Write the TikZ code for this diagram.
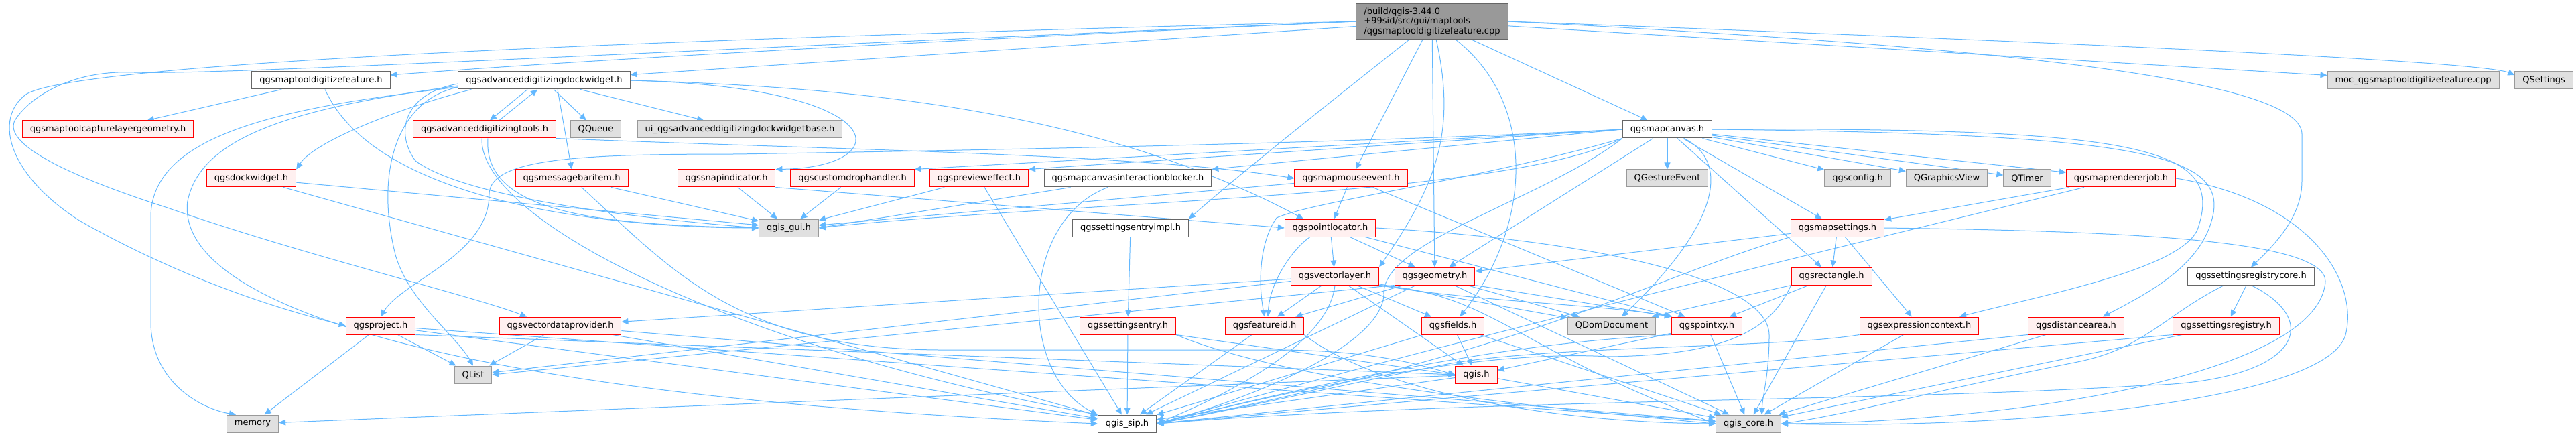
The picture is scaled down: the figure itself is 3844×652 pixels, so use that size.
\documentclass[tikz,border=0pt]{standalone}
\usepackage{fontspec}
\setmainfont{DejaVu Sans}
\usetikzlibrary{arrows.meta}
\definecolor{depblue}{RGB}{99,184,255}
\definecolor{redfill}{RGB}{255,240,240}
\definecolor{extfill}{RGB}{224,224,224}
\pgfdeclarelayer{bg}
\pgfsetlayers{bg,main}
\begin{document}
\begin{tikzpicture}[x=1pt,y=-1pt,>={Stealth[length=10pt,width=9pt,inset=0pt]},
    box/.style={draw=black!60,fill=white,line width=1pt,minimum height=26pt,
        inner xsep=11.5pt,inner ysep=0pt,font=\fontsize{13}{15}\selectfont},
    redbox/.style={box,draw=red,fill=redfill},
    extbox/.style={box,draw=black!40,fill=extfill},
    dep/.style={->,draw=depblue,line width=1pt}]
    \useasboundingbox (0,0) rectangle (3844,652);
    % main file
    \node[box,fill=black!40,align=left,inner ysep=5.5pt,
        font=\fontsize{13}{14.5}\selectfont] (main) at (2137,32)
        {/build/qgis-3.44.0\\+99sid/src/gui/maptools\\/qgsmaptooldigitizefeature.cpp};
    % row 1
    \node[box] (digfeat) at (479,120) {qgsmaptooldigitizefeature.h};
    \node[box] (advdock) at (812,120) {qgsadvanceddigitizingdockwidget.h};
    \node[extbox] (moc) at (3601,120) {moc\_qgsmaptooldigitizefeature.cpp};
    \node[extbox] (qsettings) at (3796,120) {QSettings};
    % row 2
    \node[redbox] (capture) at (161,193) {qgsmaptoolcapturelayergeometry.h};
    \node[redbox] (advtools) at (723,193) {qgsadvanceddigitizingtools.h};
    \node[extbox] (qqueue) at (889,193) {QQueue};
    \node[extbox] (uibase) at (1104,193) {ui\_qgsadvanceddigitizingdockwidgetbase.h};
    \node[box] (mapcanvas) at (2488,193) {qgsmapcanvas.h};
    % row 3
    \node[redbox] (dockw) at (375,266) {qgsdockwidget.h};
    \node[redbox] (msgbar) at (853,266) {qgsmessagebaritem.h};
    \node[redbox] (snapind) at (1084,266) {qgssnapindicator.h};
    \node[redbox] (customdrop) at (1272,266) {qgscustomdrophandler.h};
    \node[redbox] (preview) at (1461,266) {qgsprevieweffect.h};
    \node[box] (blocker) at (1683,266) {qgsmapcanvasinteractionblocker.h};
    \node[redbox] (mapmouse) at (2016,266) {qgsmapmouseevent.h};
    \node[extbox] (gesture) at (2488,266) {QGestureEvent};
    \node[extbox] (qgsconfig) at (2772,266) {qgsconfig.h};
    \node[extbox] (gview) at (2905,266) {QGraphicsView};
    \node[extbox] (qtimer) at (3025,266) {QTimer};
    \node[redbox] (renderjob) at (3165,266) {qgsmaprendererjob.h};
    % row 4
    \node[extbox] (qgisgui) at (1177,340) {qgis\_gui.h};
    \node[box] (entryimpl) at (1687,340) {qgssettingsentryimpl.h};
    \node[redbox] (pointloc) at (1985,340) {qgspointlocator.h};
    \node[redbox] (mapsettings) at (2742,340) {qgsmapsettings.h};
    % row 5
    \node[redbox] (vlayer) at (1992,412) {qgsvectorlayer.h};
    \node[redbox] (geometry) at (2141,412) {qgsgeometry.h};
    \node[redbox] (rectangle) at (2733,412) {qgsrectangle.h};
    \node[box] (regcore) at (3359,412) {qgssettingsregistrycore.h};
    % row 6
    \node[redbox] (project) at (568,486) {qgsproject.h};
    \node[redbox] (vdp) at (836,486) {qgsvectordataprovider.h};
    \node[redbox] (entry) at (1683,486) {qgssettingsentry.h};
    \node[redbox] (featureid) at (1887,486) {qgsfeatureid.h};
    \node[redbox] (fields) at (2168,486) {qgsfields.h};
    \node[extbox] (domdoc) at (2405,486) {QDomDocument};
    \node[redbox] (pointxy) at (2547,486) {qgspointxy.h};
    \node[redbox] (exprctx) at (2864,486) {qgsexpressioncontext.h};
    \node[redbox] (distarea) at (3098,486) {qgsdistancearea.h};
    \node[redbox] (registry) at (3322,486) {qgssettingsregistry.h};
    % row 7
    \node[extbox] (qlist) at (706,559) {QList};
    \node[redbox] (qgish) at (2203,559) {qgis.h};
    % row 8
    \node[extbox] (memory) at (377,632) {memory};
    \node[box] (qgissip) at (1682,632) {qgis\_sip.h};
    \node[extbox] (qgiscore) at (2609,632) {qgis\_core.h};
    \begin{pgfonlayer}{bg}
    % edges of the main file
    \foreach \dst in {advdock,moc,mapcanvas,mapmouse,geometry}
        \draw[dep] (main) -- (\dst);
    \draw[dep] (main.west) .. controls (1200,70) and (800,95) .. ([yshift=8pt]digfeat.east);
    \draw[dep] (main.east) .. controls (3000,60) and (3700,90) .. ([yshift=8pt]qsettings.west);
    \draw[dep] (main) .. controls (1950,180) and (1850,260) .. (entryimpl.north east);
    \draw[dep] (main.west) .. controls (900,60) and (120,95) .. (40,140)
        .. controls (-10,175) and (10,260) .. (120,330)
        .. controls (280,420) and (420,462) .. (project.west);
    \draw[dep] (main.west) .. controls (900,80) and (330,112) .. (200,108)
        .. controls (100,104) and (40,150) .. (22,180)
        .. controls (5,215) and (100,262) .. (250,310)
        .. controls (450,380) and (700,440) .. ([xshift=-50pt]vdp.north);
    \draw[dep] (main.east) .. controls (3000,70) and (3435,120) .. (3435,200)
        -- (3435,270) .. controls (3435,320) and (3400,360) .. (regcore.north);
    \draw[dep] (main) .. controls (2290,150) and (2290,330) .. (fields);
    \draw[dep] (main) .. controls (2175,200) and (2140,280) .. (vlayer.north east);
    % edges of the headers
    \draw[dep] (digfeat) -- (capture);
    \draw[dep] (digfeat) .. controls (560,300) and (900,340) .. (qgisgui.west);
    \draw[dep] ([xshift=-25pt]advdock.south) -- ([xshift=8pt]advtools.north);
    \draw[dep] ([xshift=22pt]advtools.north) -- ([xshift=-10pt]advdock.south);
    \foreach \dst in {qqueue,uibase}
        \draw[dep] (advdock) -- (\dst);
    \draw[dep] ([xshift=20pt]advdock.south) -- (msgbar.north);
    \draw[dep] ([xshift=20pt]advdock.south west) .. controls (600,160) and (470,210) .. (dockw.north east);
    \draw[dep] (advdock.east) .. controls (1340,130) and (1340,250) .. (snapind.north east);
    \draw[dep] (advdock.east) .. controls (1300,130) and (1650,170) .. ([xshift=-40pt]pointloc.north);
    \draw[dep] ([yshift=-5pt]advdock.west) .. controls (600,140) and (590,200) .. (620,240)
        .. controls (700,300) and (1000,330) .. (qgisgui.west);
    \draw[dep] ([yshift=-8pt]advdock.west) .. controls (450,160) and (300,200) .. (280,300)
        .. controls (260,450) and (650,590) .. (qgissip.west);
    \draw[dep] ([yshift=-10pt]advdock.west) .. controls (590,150) and (560,260) .. (590,380)
        .. controls (610,450) and (680,500) .. (qlist.north);
    \draw[dep] ([yshift=-10pt]advdock.west) .. controls (420,160) and (230,200) .. (225,320)
        -- (225,480) .. controls (225,570) and (300,610) .. ([xshift=-25pt]memory.north);
    \draw[dep] (advtools.south east) .. controls (1300,225) and (1700,230) .. (mapmouse.west);
    \draw[dep] ([xshift=5pt]advtools.south) .. controls (720,320) and (900,335) .. (qgisgui.west);
    \draw[dep] ([xshift=-4pt]advtools.south) .. controls (715,330) and (1100,520) .. (qgissip.north west);
    \foreach \dst in {qgisgui,qgissip}
        \draw[dep] (dockw) -- (\dst);
    \draw[dep] (msgbar) -- (qgisgui);
    \draw[dep] (msgbar) .. controls (1000,400) and (1100,520) .. (1400,522)
        -- (1900,522) .. controls (2050,522) and (2120,545) .. (qgish.west);
    \draw[dep] (snapind) -- (qgisgui);
    \draw[dep] (snapind.south east) -- (pointloc.west);
    \draw[dep] (customdrop) -- (qgisgui);
    \foreach \dst in {qgisgui,qgissip}
        \draw[dep] (preview) -- (\dst);
    \draw[dep] ([xshift=40pt]blocker.south west) -- (qgisgui.east);
    \draw[dep] ([xshift=-30pt]blocker.south) .. controls (1520,330) and (1520,560) .. (qgissip.north west);
    % edges of the map canvas
    \foreach \dst in {qgsconfig,gview,qtimer,renderjob,mapsettings,rectangle,gesture,geometry}
        \draw[dep] (mapcanvas) -- (\dst);
    \foreach \dst in {customdrop,preview,blocker}
        \draw[dep] (mapcanvas.west) -- (\dst.north east);
    \draw[dep] (mapcanvas.east) .. controls (3200,190) and (3320,220) .. (3280,340)
        .. controls (3260,400) and (3050,440) .. ([xshift=60pt]exprctx.north);
    \draw[dep] (mapcanvas.east) .. controls (3200,200) and (3330,230) .. (3300,330)
        .. controls (3280,400) and (3200,440) .. ([xshift=40pt]distarea.north);
    \draw[dep] ([xshift=25pt]mapcanvas.south) .. controls (2580,240) and (2570,330) .. ([xshift=15pt]domdoc.north);
    \draw[dep] (mapcanvas.south west) .. controls (2200,270) and (1960,300) .. (1905,325)
        .. controls (1880,360) and (1877,420) .. (featureid.north);
    \draw[dep] (mapcanvas.south west) .. controls (2250,295) and (1600,300) .. (qgisgui.east);
    \draw[dep] (mapcanvas.south west) .. controls (2300,300) and (2060,360) .. (2065,440)
        .. controls (2060,520) and (1850,600) .. (qgissip.east);
    \draw[dep] (mapcanvas.west) .. controls (2000,215) and (1400,225) .. (1100,230)
        .. controls (880,230) and (730,234) .. (730,290)
        .. controls (730,380) and (600,420) .. (project.north);
    % edges of the lower headers
    \foreach \dst in {pointloc,pointxy,qgisgui}
        \draw[dep] (mapmouse) -- (\dst);
    \draw[dep] (entryimpl) -- (entry);
    \draw[dep] (entry) -- (qgissip);
    \draw[dep] (entry.south east) -- (qgish.west);
    \draw[dep] (entry.south east) .. controls (1900,560) and (2200,600) .. (qgiscore.west);
    \foreach \dst in {vlayer,geometry,pointxy}
        \draw[dep] (pointloc) -- (\dst);
    \draw[dep] ([xshift=-30pt]pointloc.south) .. controls (1930,370) and (1895,420) .. ([xshift=5pt]featureid.north);
    \draw[dep] (pointloc.east) .. controls (2400,360) and (2640,420) .. (2640,500)
        .. controls (2640,560) and (2630,590) .. ([xshift=20pt]qgiscore.north);
    \foreach \dst in {qgish,fields,vdp,domdoc,featureid,qlist}
        \draw[dep] (vlayer) -- (\dst);
    \draw[dep] (vlayer.south east) .. controls (2200,450) and (2400,455) .. (pointxy.north west);
    \draw[dep] (vlayer.south east) .. controls (2230,440) and (2260,520) .. (qgiscore.west);
    \draw[dep] (vlayer.south) .. controls (1985,490) and (1900,560) .. (qgissip.east);
    \foreach \dst in {featureid,domdoc,qgissip,qgiscore}
        \draw[dep] (geometry) -- (\dst);
    \draw[dep] (geometry.south east) -- (pointxy.north west);
    \draw[dep] (geometry.south west) -- (qlist.east);
    \foreach \dst in {qgish,qgissip,qgiscore}
        \draw[dep] (fields) -- (\dst);
    \foreach \dst in {qgish,qgiscore}
        \draw[dep] (pointxy) -- (\dst);
    \draw[dep] (pointxy.south west) .. controls (2300,510) and (2100,540) .. (qgissip.east);
    \foreach \dst in {qgiscore,qgissip,memory}
        \draw[dep] (qgish) -- (\dst);
    \foreach \dst in {memory,qlist,qgiscore,qgissip}
        \draw[dep] (project) -- (\dst);
    \draw[dep] (project.south east) -- (qgish.west);
    \foreach \dst in {qlist,qgissip,qgiscore}
        \draw[dep] (vdp) -- (\dst);
    \draw[dep] (featureid) -- (qgissip);
    \draw[dep] (featureid.south east) .. controls (2050,580) and (2300,630) .. (qgiscore.west);
    \foreach \dst in {rectangle,exprctx,geometry}
        \draw[dep] (mapsettings) -- (\dst);
    \draw[dep] (mapsettings.east) .. controls (3200,345) and (3470,360) .. (3470,420)
        .. controls (3460,560) and (3000,630) .. (qgiscore.east);
    \draw[dep] (mapsettings.south west) .. controls (2450,420) and (2300,520) .. (qgissip.east);
    \foreach \dst in {pointxy,qgiscore,domdoc}
        \draw[dep] (rectangle) -- (\dst);
    \draw[dep] (rectangle.south west) .. controls (2640,500) and (2560,530) .. (2400,532)
        .. controls (2200,520) and (1900,590) .. (qgissip.east);
    \draw[dep] (exprctx) -- (qgiscore);
    \draw[dep] (exprctx.south west) .. controls (2650,520) and (2300,515) .. (2150,545)
        .. controls (2000,575) and (1850,610) .. (qgissip.east);
    \draw[dep] (distarea) -- (qgiscore);
    \draw[dep] (distarea.south west) -- (qgissip.east);
    \draw[dep] (renderjob) -- (mapsettings);
    \draw[dep] (renderjob.east) .. controls (3450,300) and (3520,420) .. (3500,500)
        .. controls (3470,600) and (3000,640) .. (qgiscore.east);
    \draw[dep] (renderjob) .. controls (2700,380) and (2200,500) .. (qgissip.east);
    \draw[dep] (regcore) -- (registry);
    \draw[dep] ([xshift=-40pt]regcore.south) .. controls (3230,470) and (3200,520) .. (3100,540)
        .. controls (2900,580) and (2750,620) .. (qgiscore.east);
    \draw[dep] (regcore.south) .. controls (3470,480) and (3430,570) .. (3200,575)
        .. controls (2800,600) and (2200,595) .. (qgissip.east);
    \draw[dep] (registry) -- (qgiscore);
    \draw[dep] (registry.south west) -- (qgissip.east);
    \end{pgfonlayer}
\end{tikzpicture}
\end{document}
